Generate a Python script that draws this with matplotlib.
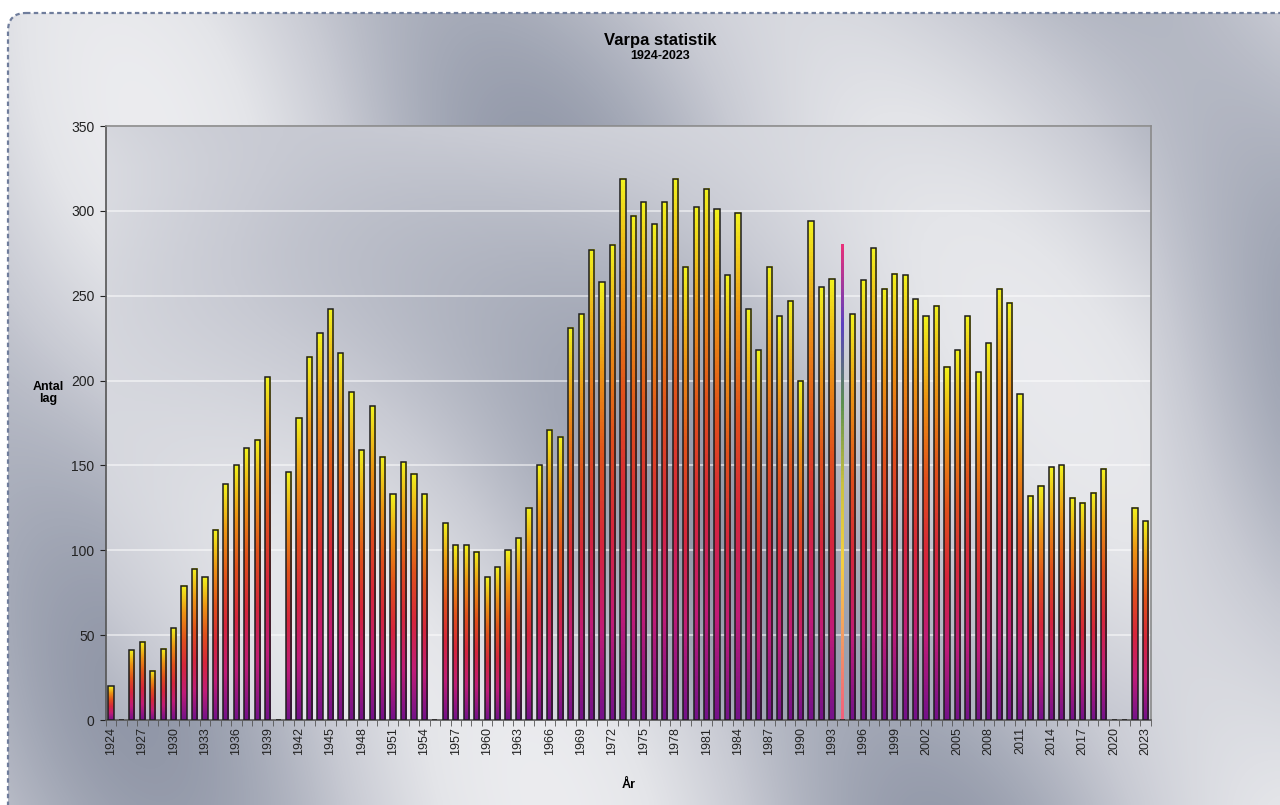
import numpy as np
import matplotlib.pyplot as plt
from matplotlib.colors import LinearSegmentedColormap
from matplotlib.patches import FancyBboxPatch

# Varpa: number of teams per year (0 = no competition that year)
years = list(range(1924, 2024))
teams = [20, 0, 41, 46, 29, 42, 54, 79, 89, 84,          # 1924-1933
         112, 139, 150, 160, 165, 202, 0, 146, 178, 214,  # 1934-1943
         228, 242, 216, 193, 159, 185, 155, 133, 152, 145,  # 1944-1953
         133, 0, 116, 103, 103, 99, 84, 90, 100, 107,     # 1954-1963
         125, 150, 171, 167, 231, 239, 277, 258, 280, 319,  # 1964-1973
         297, 305, 292, 305, 319, 267, 302, 313, 301, 262,  # 1974-1983
         299, 242, 218, 267, 238, 247, 200, 294, 255, 260,  # 1984-1993
         280, 239, 259, 278, 254, 263, 262, 248, 238, 244,  # 1994-2003
         208, 218, 238, 205, 222, 254, 246, 192, 132, 138,  # 2004-2013
         149, 150, 131, 128, 134, 148, 0, 0, 125, 117]     # 2014-2023
highlight_year = 1994
tick_years = years[::3]

plt.rcParams['font.family'] = ['Liberation Sans', 'DejaVu Sans']

W, H = 1280, 805
fig = plt.figure(figsize=(12.8, 8.05), dpi=100)
fig.patch.set_facecolor('white')

# metallic backdrop, in pixel units
bg = fig.add_axes([0, 0, 1, 1], zorder=-5)
bg.set_xlim(0, W)
bg.set_ylim(H, 0)
bg.axis('off')
metal = LinearSegmentedColormap.from_list('metal', ['#7e8598', '#a3a8b6', '#c8cad3', '#e4e5e9', '#f3f3f5'])
yy, xx = np.mgrid[0:H:4, 0:W:4]
u = (xx * 0.85 - yy * 0.5) / W
tex = 0.5 + 0.25 * np.sin(2 * np.pi * (u * 2.1 + 0.15)) + 0.12 * np.sin(2 * np.pi * (xx / W * 1.3 + yy / H * 0.7))
img = bg.imshow(tex, extent=(0, W, H, 0), cmap=metal, vmin=0, vmax=1, aspect='auto', interpolation='bicubic')
frame = FancyBboxPatch((8, 13), W + 40, H + 40, boxstyle='round,pad=0,rounding_size=18',
                       fill=False, ec='#6f7d9c', lw=1.6, ls=(0, (2, 1.5)))
bg.add_patch(frame)
img.set_clip_path(frame)

ax = fig.add_axes([105.7 / W, 1 - 720 / H, 1045 / W, 594 / H])
ax.patch.set_alpha(0)

# plot area gradient
yy2, xx2 = np.mgrid[0:1:200j, 0:1:300j]
u2 = xx2 * 0.9 + yy2 * 0.55
tex2 = 0.48 + 0.24 * np.sin(2 * np.pi * (u2 * 1.15 - 0.05)) + 0.1 * np.sin(2 * np.pi * (xx2 * 1.6 - 0.2))
tex2 = tex2 + 0.35 * np.exp(-((xx2) ** 2 + (yy2 - 1) ** 2) / 0.06)
ax.imshow(tex2, extent=(0, 1, 0, 1), transform=ax.transAxes, cmap=metal, vmin=0, vmax=1,
          aspect='auto', origin='lower', interpolation='bicubic', zorder=0)

bar_cmap = LinearSegmentedColormap.from_list('bars', ['#74128a', '#c01c78', '#d6263c', '#e0501c', '#ec9414', '#f2f21e'])
hi_cmap = LinearSegmentedColormap.from_list('hi', ['#f2607c', '#f49a64', '#f4d040', '#c8c040', '#5c9050', '#5a40c0', '#e8307a'])
grad = np.linspace(0, 1, 128).reshape(-1, 1)

width = 0.5
for yr, n in zip(years, teams):
    if n <= 0:
        continue
    if yr == highlight_year:
        w = 0.2
        ax.imshow(grad, extent=(yr - w / 2, yr + w / 2, 0, n), cmap=hi_cmap, origin='lower',
                  aspect='auto', zorder=3)
        continue
    ax.imshow(grad, extent=(yr - width / 2, yr + width / 2, 0, n), cmap=bar_cmap, origin='lower',
              aspect='auto', zorder=3)

normal = [n if yr != highlight_year else 0 for yr, n in zip(years, teams)]
ax.bar(years, normal, width=width, facecolor='none', edgecolor='#1e1e1e', linewidth=1.1, zorder=4)

ax.set_xlim(1923.5, 2023.5)
ax.set_ylim(0, 350)
ax.set_yticks(range(0, 351, 50))
ax.set_xticks(tick_years)
ax.set_xticklabels([str(y) for y in tick_years], rotation=90)
ax.set_xticks(np.arange(1923.5, 2024, 1), minor=True)
ax.tick_params(axis='x', which='major', length=0, pad=5, labelsize=9, colors='#222222')
ax.tick_params(axis='x', which='minor', length=4, color='#555555')
ax.tick_params(axis='y', length=4, labelsize=10, colors='#222222', pad=4)
ax.yaxis.grid(True, color='white', alpha=0.55, lw=1.3, zorder=1)
ax.set_axisbelow(True)

for side in ['top', 'right']:
    ax.spines[side].set_color('#8a8a8a')
    ax.spines[side].set_linewidth(1.2)
for side in ['left', 'bottom']:
    ax.spines[side].set_color('#555555')
    ax.spines[side].set_linewidth(1.2)

fig.text(660 / W, 1 - 40 / H, 'Varpa statistik', ha='center', va='center', fontsize=12, fontweight='bold')
fig.text(660 / W, 1 - 56 / H, '1924-2023', ha='center', va='center', fontsize=9, fontweight='bold')
fig.text(48 / W, 1 - 393 / H, 'Antal\nlag', ha='center', va='center', fontsize=9, fontweight='bold',
         linespacing=1.1)
fig.text(629 / W, 1 - 785 / H, 'År', ha='center', va='center', fontsize=9, fontweight='bold')

fig.savefig('out.png', dpi=100)
